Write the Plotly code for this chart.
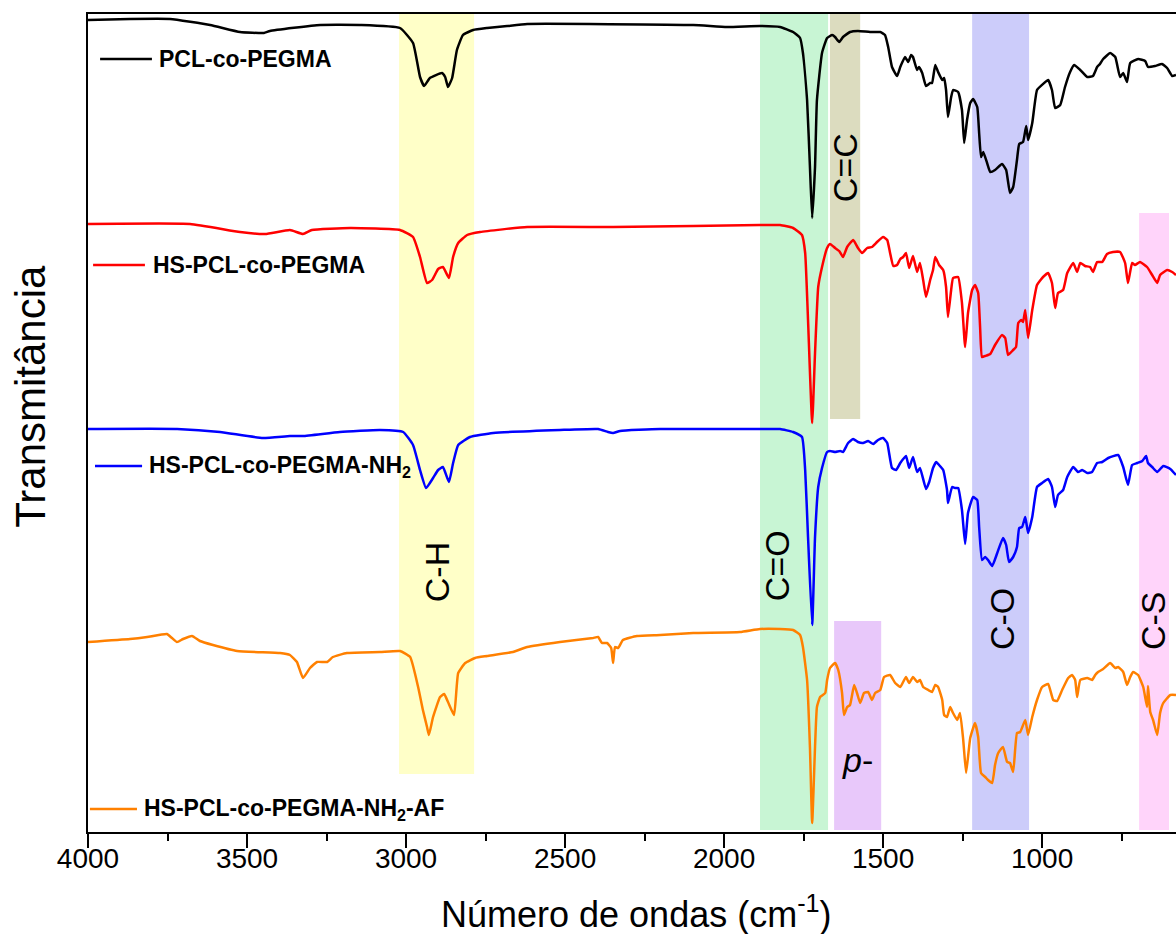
import plotly.graph_objects as go

# ---------------- data (wavenumber cm-1, transmittance a.u. with vertical offsets) ----------------
wn_pcl = [4000, 3868, 3742, 3616, 3522, 3447, 3428, 3270, 3145, 3019, 2978, 2956, 2943, 2925, 2887, 2877, 2868, 2855,
          2840, 2821, 2789, 2745, 2682, 2619, 2097, 1991, 1887, 1824, 1783, 1761, 1752, 1739, 1730, 1723, 1714, 1708,
          1692, 1676, 1660, 1651, 1638, 1626, 1604, 1579, 1541, 1509, 1494, 1484, 1472, 1456, 1446, 1431, 1421, 1412,
          1406, 1393, 1387, 1377, 1365, 1352, 1346, 1336, 1327, 1314, 1308, 1302, 1296, 1286, 1280, 1264, 1252, 1245,
          1236, 1226, 1217, 1204, 1198, 1192, 1185, 1173, 1163, 1148, 1126, 1113, 1101, 1091, 1079, 1072, 1060, 1050,
          1044, 1031, 1016, 997, 981, 969, 959, 943, 928, 912, 899, 880, 858, 840, 827, 818, 808, 786, 770, 755, 745,
          733, 723, 698, 676, 667, 645, 623, 607, 591, 579]
t_pcl = [812, 813, 813, 807, 800, 799, 801, 807, 807, 804, 789, 755, 746, 754, 759, 755, 745, 754,
         782, 797, 802, 804, 806, 808, 807, 805, 806, 805, 800, 794, 779, 732, 665, 614, 665, 732,
         779, 794, 797, 795, 790, 795, 800, 801, 800, 800, 797, 785, 765, 756, 765, 775, 770, 777,
         775, 762, 765, 759, 746, 749, 749, 767, 760, 752, 754, 742, 715, 735, 742, 740, 722, 689,
         712, 729, 733, 725, 699, 675, 680, 669, 660, 662, 668, 662, 639, 645, 672, 688, 690, 706,
         692, 709, 742, 748, 752, 742, 724, 727, 745, 760, 767, 762, 755, 756, 765, 768, 773, 779, 775, 755, 759,
         750, 769, 773, 771, 765, 766, 768, 764, 756, 757]

wn_hs = [4000, 3679, 3522, 3443, 3365, 3324, 3296, 3176, 3019, 2978, 2956, 2934, 2918, 2899, 2884, 2865, 2852, 2836,
         2808, 2767, 2619, 2349, 2097, 1887, 1824, 1783, 1755, 1745, 1736, 1723, 1714, 1704, 1692, 1676, 1667, 1651,
         1638, 1626, 1613, 1594, 1579, 1566, 1550, 1535, 1519, 1500, 1487, 1478, 1468, 1456, 1446, 1437, 1428, 1418,
         1406, 1393, 1384, 1374, 1365, 1352, 1343, 1336, 1324, 1311, 1302, 1296, 1286, 1280, 1264, 1252, 1242, 1233,
         1220, 1211, 1201, 1195, 1189, 1179, 1163, 1148, 1126, 1116, 1107, 1091, 1082, 1075, 1066, 1060, 1053, 1044,
         1031, 1016, 997, 981, 969, 959, 950, 934, 921, 902, 890, 880, 865, 849, 840, 827, 811, 796, 777, 755, 739,
         730, 717, 708, 692, 670, 654, 638, 629, 607, 591, 579]
t_hs = [608, 608, 600, 598, 602, 598, 602, 604, 602, 595, 575, 549, 552, 563, 565, 554, 575, 589,
        597, 600, 605, 605, 606, 607, 607, 604, 597, 579, 512, 409, 479, 545, 565, 584, 588, 584,
        581, 575, 585, 592, 584, 579, 584, 585, 590, 595, 592, 579, 566, 567, 573, 575, 579, 564,
        576, 560, 569, 552, 535, 552, 562, 575, 567, 562, 545, 515, 542, 554, 555, 529, 485, 519,
        542, 547, 539, 505, 475, 476, 478, 487, 497, 494, 477, 482, 485, 509, 512, 510, 522, 494,
        522, 547, 555, 559, 549, 524, 539, 542, 559, 569, 560, 569, 566, 565, 560, 570, 570, 578, 580, 580, 569,
        549, 569, 567, 570, 565, 557, 549, 557, 562, 560, 557]

wn_nh2 = [4000, 3720, 3585, 3450, 3365, 3324, 3208, 3082, 3009, 2978, 2956, 2937, 2915, 2899, 2884, 2865, 2852, 2836,
          2799, 2726, 2516, 2396, 2365, 2349, 2327, 2201, 1887, 1824, 1783, 1755, 1745, 1736, 1723, 1714, 1704, 1692,
          1676, 1667, 1651, 1635, 1626, 1610, 1594, 1579, 1563, 1547, 1531, 1516, 1500, 1487, 1472, 1459, 1446, 1428,
          1418, 1406, 1393, 1384, 1365, 1355, 1343, 1333, 1324, 1311, 1299, 1296, 1283, 1274, 1264, 1252, 1242, 1233,
          1217, 1204, 1198, 1189, 1179, 1170, 1157, 1141, 1123, 1113, 1104, 1091, 1079, 1072, 1063, 1053, 1044, 1031,
          1016, 1000, 981, 969, 959, 950, 934, 921, 902, 887, 874, 858, 843, 827, 811, 792, 761, 745, 730, 717, 701,
          685, 673, 667, 654, 638, 619, 597, 579]
t_nh2 = [403, 403, 400, 394, 396, 396, 400, 402, 400, 387, 362, 344, 354, 362, 365, 350, 369, 387,
         395, 399, 402, 403, 400, 399, 401, 403, 403, 403, 400, 395, 362, 295, 207, 295, 345, 364,
         380, 381, 380, 381, 380, 389, 393, 390, 389, 391, 388, 392, 394, 389, 364, 362, 369, 376,
         364, 375, 360, 364, 343, 350, 364, 370, 367, 362, 342, 329, 345, 344, 344, 322, 288, 319,
         335, 332, 305, 272, 275, 272, 266, 279, 294, 287, 270, 275, 285, 304, 305, 315, 299, 315,
         345, 349, 353, 345, 325, 337, 342, 355, 365, 360, 362, 359, 360, 369, 370, 374, 377, 365, 347, 367, 369,
         371, 376, 369, 365, 360, 366, 363, 357]

wn_af = [4000, 3868, 3814, 3752, 3736, 3720, 3701, 3673, 3648, 3607, 3531, 3396, 3365, 3343, 3324, 3302, 3280, 3248,
         3230, 3186, 3082, 3019, 2987, 2962, 2947, 2934, 2928, 2915, 2893, 2880, 2868, 2849, 2836, 2814, 2783, 2745,
         2664, 2619, 2516, 2412, 2396, 2384, 2368, 2355, 2349, 2343, 2333, 2318, 2274, 2201, 2097, 1950, 1887, 1824,
         1783, 1761, 1752, 1739, 1730, 1723, 1714, 1708, 1698, 1682, 1676, 1667, 1651, 1641, 1629, 1623, 1613, 1604,
         1591, 1582, 1572, 1560, 1547, 1535, 1525, 1509, 1497, 1478, 1462, 1446, 1437, 1428, 1418, 1406, 1393, 1384,
         1374, 1358, 1346, 1336, 1327, 1314, 1308, 1299, 1289, 1280, 1267, 1258, 1248, 1239, 1226, 1211, 1201, 1192,
         1179, 1170, 1157, 1148, 1138, 1123, 1110, 1101, 1091, 1079, 1069, 1053, 1044, 1031, 1016, 1000, 981, 965,
         953, 937, 918, 906, 896, 890, 880, 858, 843, 833, 824, 808, 786, 770, 761, 745, 733, 723, 714, 698, 682,
         670, 667, 660, 651, 638, 629, 619, 597, 579]
t_af = [190, 193, 195, 198, 194, 190, 193, 196, 191, 187, 181, 179, 177, 170, 154, 164, 170, 170,
        175, 179, 180, 181, 175, 145, 122, 105, 97, 115, 135, 138, 130, 117, 159, 169, 174, 176,
        180, 185, 190, 194, 195, 189, 189, 184, 169, 185, 184, 192, 196, 197, 199, 200, 203, 203,
        202, 197, 185, 152, 85, 9, 85, 125, 135, 139, 152, 164, 169, 162, 139, 117, 125, 127,
        147, 139, 129, 139, 140, 132, 139, 142, 155, 157, 149, 145, 150, 155, 149, 155, 150, 152,
        145, 142, 140, 147, 145, 132, 117, 115, 125, 119, 112, 119, 92, 59, 94, 109, 95, 59,
        55, 52, 49, 67, 79, 85, 70, 69, 60, 99, 100, 112, 97, 115, 132, 145, 148, 132,
        131, 142, 154, 157, 152, 135, 152, 154, 152, 157, 160, 163, 169, 164, 165, 160, 147, 155, 160, 157, 145,
        125, 146, 120, 112, 97, 119, 129, 137, 137]

series_names = ["PCL-co-PEGMA", "HS-PCL-co-PEGMA", "HS-PCL-co-PEGMA-NH<sub>2</sub>",
                "HS-PCL-co-PEGMA-NH<sub>2</sub>-AF"]
series_x = [wn_pcl, wn_hs, wn_nh2, wn_af]
series_y = [t_pcl, t_hs, t_nh2, t_af]
series_colors = ["#000000", "#FF0000", "#0000FF", "#FF8000"]

# legend placement (wavenumber of line start/end, text start, transmittance level)
legend_line_x0 = [3962, 3984, 3978, 3994]
legend_line_x1 = [3799, 3821, 3830, 3846]
legend_text_x = [3784, 3803, 3815, 3831]
legend_y = [773, 567, 366, 23]

# assignment bands
band_labels = ["C-H", "C=O", "C=C", "<i>p</i>-", "C-O", "C-S"]
band_x0 = [3022, 1887, 1667, 1654, 1220, 695]
band_x1 = [2786, 1673, 1572, 1506, 1041, 601]
band_y0 = [58, 2, 413, 2, 2, 2]
band_y1 = [818, 818, 818, 211, 818, 619]
band_colors = ["#FFFFC8", "#C8F5D4", "#DCDCBF", "#E8C8FA", "#CCCCFA", "#FFD4FA"]
label_x = [2902, 1833, 1619, 1582, 1126, 651]
label_y = [260, 266, 664, 72, 213, 211]
label_angle = [-90, -90, -90, 0, -90, -90]

x_title = "Número de ondas (cm<sup>-1</sup>)"
y_title = "Transmitância"

FONT = "Liberation Sans, Arial, sans-serif"

fig = go.Figure()

for bx0, bx1, by0, by1, bc in zip(band_x0, band_x1, band_y0, band_y1, band_colors):
    fig.add_shape(type="rect", xref="x", yref="y", x0=bx0, x1=bx1, y0=by0, y1=by1,
                  fillcolor=bc, line=dict(width=0), layer="below")

for xs, ys, name, col in zip(series_x, series_y, series_names, series_colors):
    fig.add_trace(go.Scatter(x=xs, y=ys, mode="lines", name=name,
                             line=dict(color=col, width=2.5, shape="spline", smoothing=0.4),
                             showlegend=False))

for lx, ly, txt, ang in zip(label_x, label_y, band_labels, label_angle):
    fig.add_annotation(x=lx, y=ly, xref="x", yref="y", text=txt, textangle=ang, showarrow=False,
                       font=dict(family=FONT, size=34, color="black"))

for x0, x1, tx, ly, name, col in zip(legend_line_x0, legend_line_x1, legend_text_x, legend_y,
                                     series_names, series_colors):
    fig.add_shape(type="line", xref="x", yref="y", x0=x0, x1=x1, y0=ly, y1=ly,
                  line=dict(color=col, width=2.5))
    fig.add_annotation(x=tx, y=ly, xref="x", yref="y", text="<b>" + name + "</b>", showarrow=False,
                       xanchor="left", yanchor="middle",
                       font=dict(family=FONT, size=23, color="black"))

# axis titles
fig.add_annotation(x=0.504, y=-0.098, xref="paper", yref="paper", text=x_title, showarrow=False,
                   xanchor="center", yanchor="middle", font=dict(family=FONT, size=36, color="black"))
fig.add_annotation(x=-0.0535, y=0.533, xref="paper", yref="paper", text=y_title, showarrow=False,
                   textangle=-90, xanchor="center", yanchor="middle",
                   font=dict(family=FONT, size=42, color="black"))

fig.update_layout(
    width=1176, height=934,
    margin=dict(l=88, r=0, t=14, b=102, autoexpand=False),
    paper_bgcolor="white", plot_bgcolor="white",
    font=dict(family=FONT, color="black"),
    xaxis=dict(range=[4000, 579], showgrid=False, zeroline=False,
               showline=True, linecolor="black", linewidth=2, mirror=True,
               ticks="outside", ticklen=14, tickwidth=2, tickcolor="black",
               tick0=0, dtick=500, tickfont=dict(size=28, family=FONT),
               ticklabelstandoff=-14,
               minor=dict(ticks="outside", ticklen=7, tickwidth=2, tickcolor="black", dtick=250),
               automargin=False),
    yaxis=dict(range=[0, 818], showgrid=False, zeroline=False, showticklabels=False,
               showline=True, linecolor="black", linewidth=2, mirror=False, ticks="",
               automargin=False),
)

fig.write_html("out.html", config={"displayModeBar": False},
               post_script="document.body.style.margin='0';document.body.style.overflow='hidden';")
